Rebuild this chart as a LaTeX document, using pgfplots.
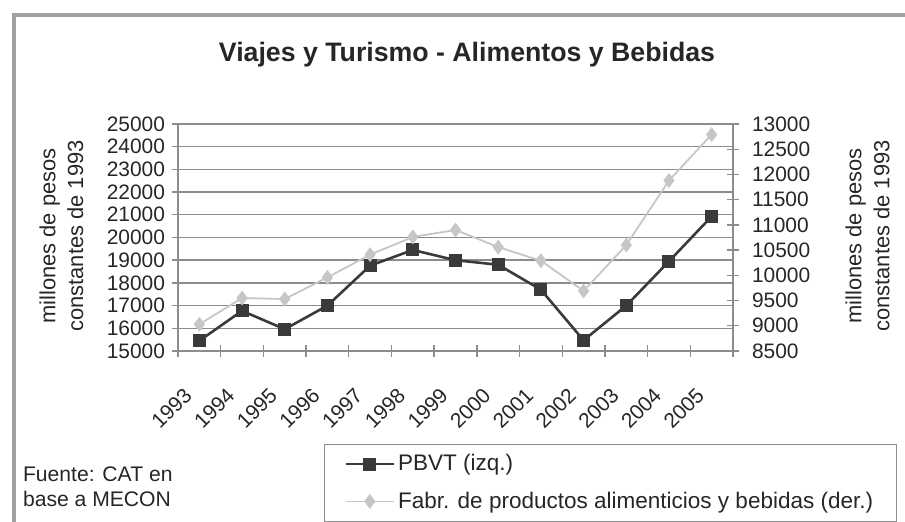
\documentclass[border=0pt]{standalone}
\usepackage{fontspec}
\setmainfont{Liberation Sans}
\usepackage{pgfplots}
\usepackage{pgfplotstable}
\pgfplotsset{compat=1.18}

\definecolor{serieA}{HTML}{3A3A3A}
\definecolor{serieB}{HTML}{C6C6C6}
\definecolor{gridc}{HTML}{8C8C8C}
\definecolor{framec}{HTML}{A0A0A0}

% x = posicion de la categoria (0 = 1993)
\pgfplotstableread{
x year pbvt fabr
0  1993 15450 9030
1  1994 16770 9550
2  1995 15960 9530
3  1996 17000 9960
4  1997 18760 10410
5  1998 19450 10760
6  1999 19000 10900
7  2000 18800 10560
8  2001 17700 10290
9  2002 15470 9690
10 2003 17000 10600
11 2004 18950 11880
12 2005 20930 12790
}\datos

\pgfplotsset{
  comun/.style={
    at={(89bp,85.5bp)}, anchor=south west, scale only axis,
    width=277.5bp, height=113.5bp,
    xmin=-0.5, xmax=12.5,
    axis line style={gridc, line width=0.8bp},
    tick style={gridc, line width=0.7bp},
    tick align=center, major tick length=6bp, minor tick length=6bp,
    ticklabel style={font=\fontsize{10.5}{12}\selectfont, text=black!85},
    scaled y ticks=false,
    /pgf/number format/.cd, 1000 sep={}, assume math mode=true,
  },
  leyenda/.style={
    legend image code/.code={
      \draw[mark repeat=2, mark phase=2, ##1] plot coordinates {(0bp,0bp) (12bp,0bp) (24bp,0bp)};
    },
  },
}

\begin{document}
\begin{tikzpicture}
\useasboundingbox (0bp,0bp) rectangle (452.5bp,261bp);
\begin{scope}
  \clip (0bp,0bp) rectangle (452.5bp,261bp);
  \draw[framec, line width=2bp] (7bp,-10bp) -- (7bp,253.5bp) -- (465bp,253.5bp);
\end{scope}

\node[font=\fontsize{13.4}{16}\selectfont\bfseries, text=black!85] at (233.5bp,233.5bp)
  {Viajes y Turismo - Alimentos y Bebidas};

\node[anchor=west, align=left, font=\fontsize{10.6}{12.5}\selectfont, text=black!85] at (8bp,17.5bp)
  {Fuente: CAT en\\base a MECON};

\begin{axis}[
  comun,
  ymin=15000, ymax=25000,
  ytick={15000,16000,...,25000},
  xtick={0,...,12},
  xticklabels={1993,1994,1995,1996,1997,1998,1999,2000,2001,2002,2003,2004,2005},
  major x tick style={draw=none},
  minor xtick={-0.5,0.5,...,12.5},
  xtick pos=bottom, ytick pos=left,
  xticklabel style={xshift=-3.2bp, yshift=-15bp, rotate=45, anchor=east},
  ymajorgrids, grid style={gridc, line width=0.7bp},
  ylabel={millones de pesos\\constantes de 1993},
  ylabel style={align=center, font=\fontsize{11}{14}\selectfont, text=black!85,
    at={(axis description cs:-0.21,0.5066)}, anchor=center, rotate=0},
]
\addplot[serieA, line width=1.3bp, mark=square*, mark size=2.6bp]
  table[x=x, y=pbvt] {\datos};
\end{axis}

\begin{axis}[
  comun, leyenda,
  ymin=8500, ymax=13000,
  ytick={8500,9000,...,13000},
  axis y line*=right, axis x line=none,
  yticklabel style={xshift=3bp},
  ylabel={millones de pesos\\constantes de 1993},
  ylabel style={align=center, font=\fontsize{11}{14}\selectfont, text=black!85,
    at={(axis description cs:1.2423,0.5066)}, anchor=center, rotate=0},
  legend style={at={(axis description cs:0.263,-0.4097)}, anchor=north west,
    draw=gridc, line width=0.5bp, inner xsep=10bp, inner ysep=3bp,
    font=\fontsize{11.3}{13}\selectfont, text=black!85, row sep=5bp,
    nodes={inner xsep=1.5bp}},
  legend cell align=left,
]
\addlegendimage{serieA, line width=1.3bp, mark=square*, mark size=2.6bp}
\addlegendentry{PBVT (izq.)}
\addplot[serieB, line width=0.9bp, mark=diamond*, mark size=3bp]
  table[x=x, y=fabr] {\datos};
\addlegendentry{Fabr. de productos alimenticios y bebidas (der.)}
\end{axis}
\end{tikzpicture}
\end{document}
